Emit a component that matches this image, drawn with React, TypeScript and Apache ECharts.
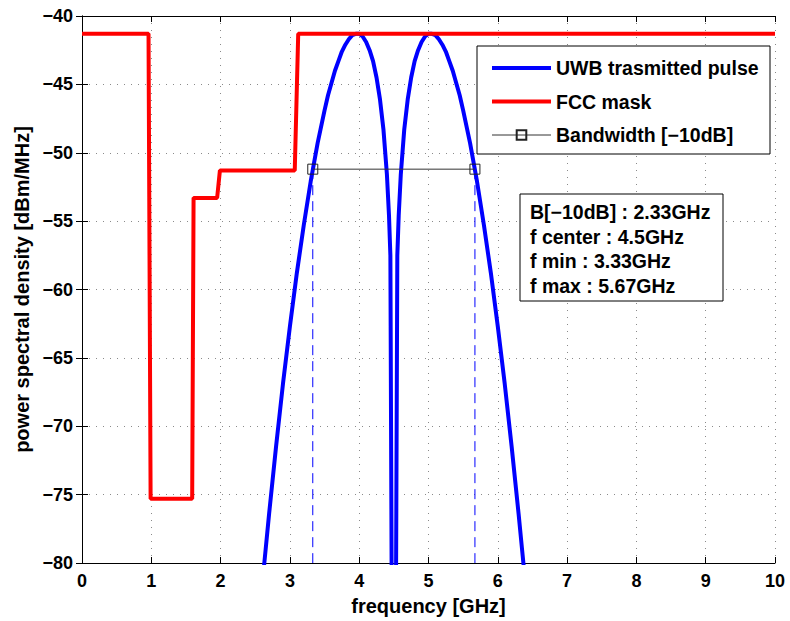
import React, { useEffect, useRef } from "react";
import * as echarts from "echarts";

// ---- data ----
const uwbFreq = [
  2.6, 2.65, 2.7, 2.8, 2.9, 3.0, 3.1, 3.2, 3.3, 3.4, 3.5, 3.55, 3.6, 3.65, 3.7, 3.75, 3.8, 3.85, 3.9, 3.95,
  4.0, 4.05, 4.1, 4.15, 4.2, 4.25, 4.3, 4.35, 4.4, 4.43, 4.45, 4.475,
  4.525, 4.55, 4.57, 4.6, 4.65, 4.7, 4.75, 4.8, 4.85, 4.9, 4.95, 5.0, 5.05, 5.1, 5.15, 5.2, 5.25, 5.3,
  5.35, 5.4, 5.45, 5.5, 5.6, 5.7, 5.8, 5.9, 6.0, 6.1, 6.2, 6.3, 6.35, 6.4,
];
const uwbPsd = [
  -81.6, -79.0, -76.4, -71.5, -66.9, -62.7, -58.8, -55.3, -52.1, -49.3, -46.9, -45.8, -44.9, -44.0, -43.3, -42.6, -42.1, -41.7, -41.4, -41.3,
  -41.3, -41.5, -41.9, -42.5, -43.3, -44.5, -46.1, -48.3, -51.6, -54.6, -57.5, -90,
  -90, -57.5, -54.6, -51.6, -48.3, -46.1, -44.5, -43.3, -42.5, -41.9, -41.5, -41.3, -41.3, -41.4, -41.7, -42.1, -42.6, -43.3,
  -44.0, -44.9, -45.8, -46.9, -49.3, -52.1, -55.3, -58.8, -62.7, -66.9, -71.5, -76.4, -79.0, -81.6,
];
const fccFreq = [0, 0.96, 0.99, 1.59, 1.61, 1.95, 1.99, 3.07, 3.12, 10];
const fccPsd = [-41.3, -41.3, -75.3, -75.3, -53.3, -53.3, -51.3, -51.3, -41.3, -41.3];
const bwMin = 3.33;
const bwMax = 5.67;
const bwLevel = -51.2;
const infoLines = [
  "B[\u221210dB] : 2.33GHz",
  "f center : 4.5GHz",
  "f min : 3.33GHz",
  "f max : 5.67GHz",
];
const seriesNames = ["UWB trasmitted pulse", "FCC mask", "Bandwidth [\u221210dB]"];
const xTicks = { min: 0, max: 10, interval: 1 };
const yTicks = { min: -80, max: -40, interval: 5 };

const FONT = "'Liberation Sans', Arial, Helvetica, sans-serif";
const TXT = 19.5;

export default function App() {
  const ref = useRef<HTMLDivElement>(null);
  useEffect(() => {
    if (!ref.current) return;
    const chart = echarts.init(ref.current, null, { renderer: "svg" });
    const fmt = (v: number) => (v < 0 ? "\u2212" + Math.abs(v) : String(v));
    const gridLine = { show: true, lineStyle: { color: "#8a8a8a", type: [1, 6] as any, width: 1 } };
    const axisLine = { show: true, lineStyle: { color: "#000", width: 1 } };
    const tick = { show: true, inside: true, length: 6, lineStyle: { color: "#000" } };
    const labelStyle = { fontFamily: FONT, fontWeight: "bold" as const, fontSize: 18, color: "#000" };
    const nameStyle = { fontFamily: FONT, fontWeight: "bold" as const, fontSize: 20, color: "#000" };
    const hidden = { color: "rgba(0,0,0,0)", borderWidth: 0, opacity: 0 };
    chart.setOption({
      animation: false,
      backgroundColor: "#fff",
      grid: { left: 82, top: 16, right: 15, bottom: 57, containLabel: false },
      xAxis: [
        {
          type: "value", ...xTicks, position: "bottom",
          axisLine, axisTick: tick, splitLine: gridLine,
          axisLabel: { ...labelStyle, margin: 9, formatter: fmt },
          name: "frequency [GHz]", nameLocation: "middle", nameGap: 33,
          nameTextStyle: nameStyle,
        },
        {
          type: "value", ...xTicks, position: "top",
          axisLine, axisTick: tick, splitLine: { show: false }, axisLabel: { show: false },
        },
      ],
      yAxis: [
        {
          type: "value", ...yTicks, position: "left",
          axisLine, axisTick: tick, splitLine: gridLine,
          axisLabel: { ...labelStyle, margin: 9, formatter: fmt },
          name: "power spectral density [dBm/MHz]", nameLocation: "middle", nameGap: 48,
          nameTextStyle: nameStyle,
        },
        {
          type: "value", ...yTicks, position: "right",
          axisLine, axisTick: tick, splitLine: { show: false }, axisLabel: { show: false },
        },
      ],
      legend: {
        data: [
          { name: seriesNames[0], itemStyle: hidden, lineStyle: { width: 4 } },
          { name: seriesNames[1], itemStyle: hidden, lineStyle: { width: 4 } },
          { name: seriesNames[2], lineStyle: { width: 1 } },
        ],
        orient: "vertical",
        left: 490,
        top: 58,
        padding: 0,
        itemGap: 13.5,
        itemWidth: 59,
        itemHeight: 12,
        z: 200,
        textStyle: { fontFamily: FONT, fontWeight: "bold", fontSize: TXT, color: "#000", lineHeight: 20 },
      },
      graphic: [
        {
          type: "rect", z: 100,
          shape: { x: 477, y: 46, width: 293, height: 108 },
          style: { fill: "#fff", stroke: "#000", lineWidth: 1 },
        },
        {
          type: "rect", z: 100,
          shape: { x: 520, y: 194, width: 203, height: 107 },
          style: { fill: "#fff", stroke: "#000", lineWidth: 1 },
        },
        ...infoLines.map((t, i) => ({
          type: "text", z: 101,
          x: 530, y: 212 + i * 24.5,
          style: {
            text: t, fill: "#000", font: `bold ${TXT}px ${FONT}`,
            verticalAlign: "middle",
          },
        })),
      ],
      series: [
        {
          name: seriesNames[0], type: "line", showSymbol: false, symbol: "none",
          data: uwbFreq.map((f, i) => [f, uwbPsd[i]]),
          lineStyle: { color: "#0000ff", width: 4 }, itemStyle: { color: "#0000ff" },
          z: 3, clip: true,
        },
        {
          name: seriesNames[1], type: "line", showSymbol: false, symbol: "none",
          data: fccFreq.map((f, i) => [f, fccPsd[i]]),
          lineStyle: { color: "#ff0000", width: 4 }, itemStyle: { color: "#ff0000" },
          z: 4, clip: true,
        },
        {
          name: seriesNames[2], type: "line", symbol: "rect", symbolSize: 10, showSymbol: true,
          data: [[bwMin, bwLevel], [bwMax, bwLevel]],
          lineStyle: { color: "#333", width: 1 },
          itemStyle: { color: "rgba(0,0,0,0)", borderColor: "#222", borderWidth: 1 },
          z: 5,
        },
        {
          name: "fmin", type: "line", symbol: "none",
          data: [[bwMin, bwLevel], [bwMin, yTicks.min]],
          lineStyle: { color: "#0000ff", width: 1, type: [10, 6] as any },
          z: 2,
        },
        {
          name: "fmax", type: "line", symbol: "none",
          data: [[bwMax, bwLevel], [bwMax, yTicks.min]],
          lineStyle: { color: "#0000ff", width: 1, type: [10, 6] as any },
          z: 2,
        },
      ],
    });
    return () => chart.dispose();
  }, []);
  return <div ref={ref} style={{ width: 790, height: 621, position: "absolute", left: 0, top: 0 }} />;
}
